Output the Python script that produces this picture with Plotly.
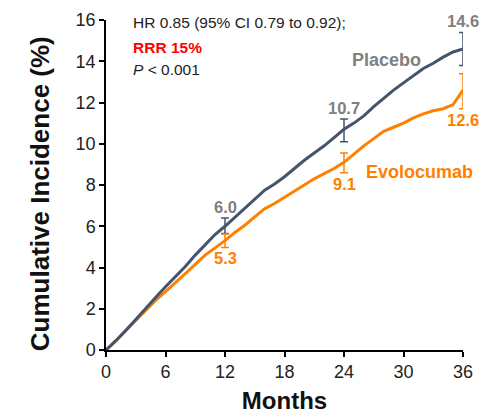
import plotly.graph_objects as go

months = [0, 1, 2, 3, 4, 5, 6, 7, 8, 9, 10, 11, 12, 13, 14, 15, 16, 17, 18, 19, 20, 21, 22, 23, 24,
          25, 26, 27, 28, 29, 30, 31, 32, 33, 34, 35, 35.6, 36]
placebo = [0, 0.45, 0.95, 1.5, 2.05, 2.55, 3.07, 3.55, 4.05, 4.6, 5.1, 5.6, 6.0, 6.45, 6.85, 7.3,
           7.75, 8.05, 8.4, 8.8, 9.2, 9.55, 9.9, 10.3, 10.7, 11.0, 11.35, 11.8, 12.2, 12.6, 12.95,
           13.3, 13.65, 13.9, 14.2, 14.45, 14.55, 14.6]
evolocumab = [0, 0.45, 0.95, 1.45, 1.95, 2.4, 2.83, 3.25, 3.7, 4.15, 4.6, 4.95, 5.3, 5.7, 6.05,
              6.45, 6.85, 7.1, 7.4, 7.7, 8.0, 8.3, 8.55, 8.8, 9.1, 9.5, 9.9, 10.25, 10.6, 10.8,
              11.0, 11.25, 11.45, 11.6, 11.7, 11.9, 12.3, 12.6]

ci_months = [12, 24, 36]
placebo_pt = [6.0, 10.7, 14.6]
placebo_lo = [5.65, 10.1, 13.8]
placebo_hi = [6.4, 11.2, 15.4]
evo_pt = [5.3, 9.1, 12.6]
evo_lo = [4.97, 8.6, 11.7]
evo_hi = [5.63, 9.55, 13.4]

x_ticks = [0, 6, 12, 18, 24, 30, 36]
y_ticks = [0, 2, 4, 6, 8, 10, 12, 14, 16]

C_PLA = "#44546A"
C_EVO = "#FF8000"
C_GRAY = "#808080"
FONT = "Liberation Sans, Arial, sans-serif"

fig = go.Figure()
fig.add_trace(go.Scatter(x=months, y=evolocumab, mode="lines",
                         line=dict(color=C_EVO, width=3), showlegend=False))
fig.add_trace(go.Scatter(x=months, y=placebo, mode="lines",
                         line=dict(color=C_PLA, width=3), showlegend=False))
fig.add_trace(go.Scatter(
    x=ci_months, y=placebo_pt, mode="markers", marker=dict(size=1, opacity=0),
    error_y=dict(type="data", symmetric=False,
                 array=[h - p for h, p in zip(placebo_hi, placebo_pt)],
                 arrayminus=[p - l for l, p in zip(placebo_lo, placebo_pt)],
                 color=C_PLA, thickness=1.5, width=4),
    showlegend=False, cliponaxis=False))
fig.add_trace(go.Scatter(
    x=ci_months, y=evo_pt, mode="markers", marker=dict(size=1, opacity=0),
    error_y=dict(type="data", symmetric=False,
                 array=[h - p for h, p in zip(evo_hi, evo_pt)],
                 arrayminus=[p - l for l, p in zip(evo_lo, evo_pt)],
                 color=C_EVO, thickness=1.5, width=4),
    showlegend=False, cliponaxis=False))

ann = []
for xm, p, hi in zip(ci_months, placebo_pt, placebo_hi):
    ann.append(dict(x=xm, y=hi, text=f"<b>{p:.1f}</b>", showarrow=False, yanchor="bottom",
                    yshift=0, font=dict(size=16.5, color=C_GRAY, family=FONT)))
for xm, p, lo in zip(ci_months, evo_pt, evo_lo):
    ann.append(dict(x=xm, y=lo, text=f"<b>{p:.1f}</b>", showarrow=False, yanchor="top",
                    yshift=0, font=dict(size=16.5, color=C_EVO, family=FONT)))
ann.append(dict(x=28.3, y=14.08, text="<b>Placebo</b>", showarrow=False, xanchor="center",
                font=dict(size=18, color=C_GRAY, family=FONT)))
ann.append(dict(x=31.6, y=8.64, text="<b>Evolocumab</b>", showarrow=False, xanchor="center",
                font=dict(size=18, color=C_EVO, family=FONT)))
ann.append(dict(x=2.5, y=15.88, text="HR 0.85 (95% CI 0.79 to 0.92);", showarrow=False,
                xanchor="left", yanchor="middle", font=dict(size=15.5, color="#222222", family=FONT)))
ann.append(dict(x=2.5, y=14.65, text="<b>RRR 15%</b>", showarrow=False,
                xanchor="left", yanchor="middle", font=dict(size=15.5, color="#FF0000", family=FONT)))
ann.append(dict(x=2.5, y=13.6, text="<i>P</i> < 0.001", showarrow=False,
                xanchor="left", yanchor="middle", font=dict(size=15.5, color="#222222", family=FONT)))
# y-axis title placed as rotated annotation
ann.append(dict(xref="paper", yref="y", x=-0.185, y=7.6, text="<b>Cumulative Incidence (%)</b>",
                textangle=-90, showarrow=False, xanchor="center", yanchor="middle",
                font=dict(size=26, color="#111111", family=FONT)))

fig.update_layout(
    width=480, height=418,
    margin=dict(l=106, r=17, t=20, b=68),
    paper_bgcolor="white", plot_bgcolor="white",
    font=dict(family=FONT, color="#222222"),
    annotations=ann,
    xaxis=dict(range=[0, 36], tickvals=x_ticks, ticks="outside", ticklen=5, tickwidth=1.5,
               tickcolor="black", showline=True, linecolor="black", linewidth=1.5,
               showgrid=False, zeroline=False, tickfont=dict(size=18, color="#222222"),
               automargin=False,
               title=dict(text="<b>Months</b>", font=dict(size=24, color="#111111"), standoff=11)),
    yaxis=dict(range=[0, 16], tickvals=y_ticks, ticks="outside", ticklen=5, tickwidth=1.5,
               tickcolor="black", showline=True, linecolor="black", linewidth=1.5,
               showgrid=False, zeroline=False, tickfont=dict(size=18, color="#222222"),
               automargin=False),
)

fig.write_html("out.html")
